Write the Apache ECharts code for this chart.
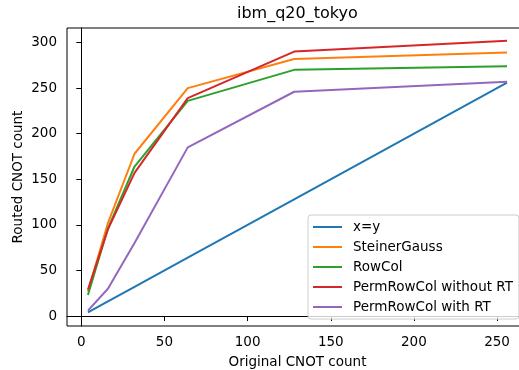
<!DOCTYPE html>
<html>
<head>
<meta charset="utf-8">
<script src="https://cdn.jsdelivr.net/npm/echarts@6/dist/echarts.min.js"></script>
<style>
  html, body { margin: 0; padding: 0; background: #fff; }
  #chart { width: 519px; height: 370px; }
</style>
</head>
<body>
<div id="chart"></div>
<script>
// original CNOT counts (x) and routed counts per method (y)
const xs = [4, 16, 32, 64, 128, 256];
const xEqualsY = [4, 16, 32, 64, 128, 256];
const steinerGauss = [27, 102, 178, 250, 282, 289];
const rowCol = [23, 96, 164, 236, 270, 274];
const permNoRT = [29, 95, 157, 239, 290, 302];
const permRT = [6, 30, 80, 185, 246, 257];

const xTicks = [0, 50, 100, 150, 200, 250];
const yTicks = [0, 50, 100, 150, 200, 250, 300];

const names = ['x=y', 'SteinerGauss', 'RowCol', 'PermRowCol without RT', 'PermRowCol with RT'];
const colors = ['#1f77b4', '#ff7f0e', '#2ca02c', '#d62728', '#9467bd'];
const values = [xEqualsY, steinerGauss, rowCol, permNoRT, permRT];

const font = 'DejaVu Sans';

let chart = echarts.init(document.getElementById('chart'));
chart.setOption({
  animation: false,
  title: {
    text: 'ibm_q20_tokyo',
    left: 237,
    top: 6,
    padding: 0,
    textStyle: { fontFamily: font, fontSize: 16, fontWeight: 'normal', color: '#000' }
  },
  grid: {
    left: 67,
    top: 28,
    right: -9,
    bottom: 44,
    show: true,
    borderColor: '#000',
    borderWidth: 1,
    outerBoundsMode: 'none'
  },
  legend: {
    orient: 'vertical',
    left: 308,
    top: 215,
    padding: [2, 6, 2, 5],
    itemGap: 0,
    itemWidth: 29,
    itemHeight: 2,
    icon: 'rect',
    backgroundColor: 'rgba(255,255,255,0.8)',
    borderColor: '#cccccc',
    borderWidth: 1,
    borderRadius: 3,
    data: names,
    textStyle: { fontFamily: font, fontSize: 13.5, color: '#000', lineHeight: 20, padding: [0, 0, 0, 6] }
  },
  xAxis: {
    type: 'value',
    min: -8.6,
    max: 268.6,
    name: 'Original CNOT count',
    nameLocation: 'middle',
    nameGap: 29,
    nameMoveOverlap: false,
    nameTextStyle: { fontFamily: font, fontSize: 13.5, color: '#000' },
    axisLine: { lineStyle: { color: '#000', width: 1 } },
    axisTick: { show: true, length: 5, customValues: xTicks, lineStyle: { color: '#000' } },
    axisLabel: { customValues: xTicks, margin: 9, fontFamily: font, fontSize: 13.5, color: '#000' },
    splitLine: { show: false }
  },
  yAxis: {
    type: 'value',
    min: -10.9,
    max: 315.9,
    name: 'Routed CNOT count',
    nameLocation: 'middle',
    nameGap: 42,
    nameMoveOverlap: false,
    nameTextStyle: { fontFamily: font, fontSize: 13.5, color: '#000' },
    axisLine: { show: true, lineStyle: { color: '#000', width: 1 } },
    axisTick: { show: true, length: 5, customValues: yTicks, lineStyle: { color: '#000' } },
    axisLabel: { customValues: yTicks, margin: 10, fontFamily: font, fontSize: 13.5, color: '#000' },
    splitLine: { show: false }
  },
  series: names.map((name, i) => ({
    name: name,
    type: 'line',
    showSymbol: false,
    color: colors[i],
    lineStyle: { width: 2, color: colors[i] },
    data: xs.map((x, j) => [x, values[i][j]])
  }))
});
</script>
</body>
</html>
